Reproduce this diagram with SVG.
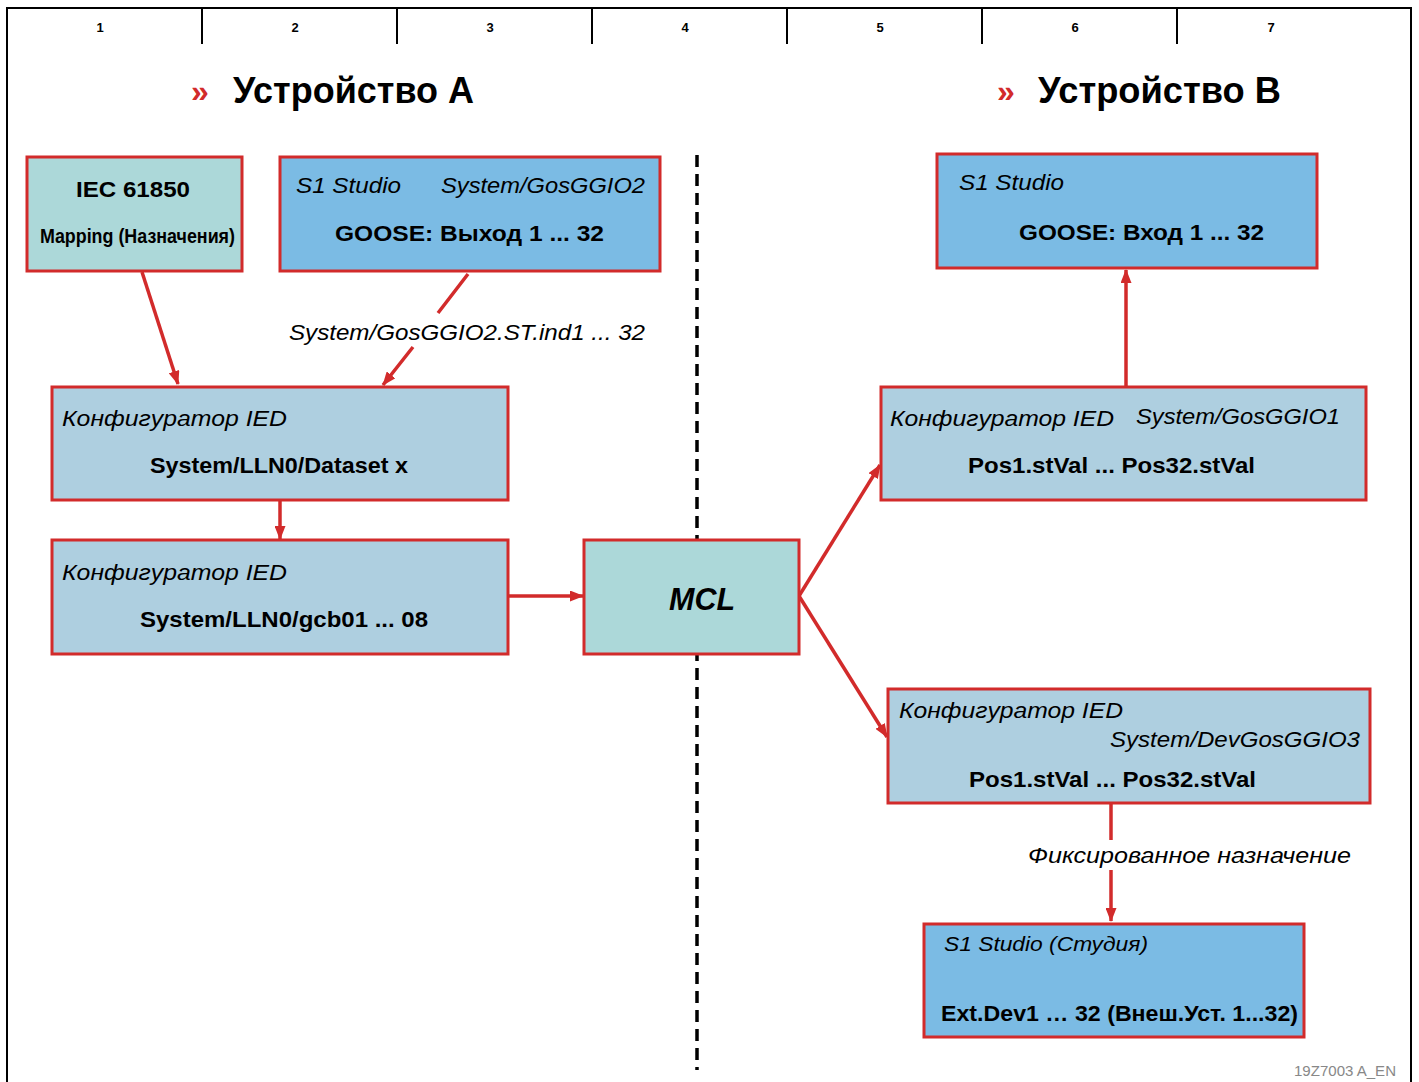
<svg xmlns="http://www.w3.org/2000/svg" width="1419" height="1082" viewBox="0 0 1419 1082">
<style>
.box{stroke:#d22b2b;stroke-width:3}
.teal{fill:#acd8d9}
.blue{fill:#7bbbe4}
.light{fill:#aecfe0}
.it{font-family:"Liberation Sans",Arial,sans-serif;font-style:italic;font-size:22px;fill:#000}
.bd{font-family:"Liberation Sans",Arial,sans-serif;font-weight:bold;font-size:22px;fill:#000}
.num{font-family:"Liberation Sans",Arial,sans-serif;font-weight:bold;font-size:13px;fill:#000;text-anchor:middle}
.title{font-family:"Liberation Sans",Arial,sans-serif;font-weight:bold;font-size:36px;fill:#000}
.raq{font-family:"Liberation Sans",Arial,sans-serif;font-weight:bold;font-size:32px;fill:#d22b2b}
.conn{stroke:#d22b2b;stroke-width:3.5;fill:none;marker-end:url(#ah)}
</style>
<defs>
<marker id="ah" viewBox="0 0 14 11" refX="13" refY="5.5" markerWidth="14" markerHeight="11" markerUnits="userSpaceOnUse" orient="auto">
<path d="M0,0 L14,5.5 L0,11 Z" fill="#d22b2b"/>
</marker>
</defs>
<rect width="1419" height="1082" fill="#fff"/>
<g id="frame" stroke="#000" stroke-width="2" fill="none">
<path d="M7,1082 V8 H1411 V1082"/>
<path d="M202,8 V44 M397,8 V44 M592,8 V44 M787,8 V44 M982,8 V44 M1177,8 V44"/>
</g>
<g id="colnums">
<text class="num" x="100" y="32">1</text>
<text class="num" x="295" y="32">2</text>
<text class="num" x="490" y="32">3</text>
<text class="num" x="685" y="32">4</text>
<text class="num" x="880" y="32">5</text>
<text class="num" x="1075" y="32">6</text>
<text class="num" x="1271" y="32">7</text>
</g>
<g id="titleA">
<text class="raq" x="191" y="102">»</text>
<text class="title" x="233" y="103" textLength="241" lengthAdjust="spacingAndGlyphs">Устройство A</text>
</g>
<g id="titleB">
<text class="raq" x="997" y="102">»</text>
<text class="title" x="1038" y="103" textLength="243" lengthAdjust="spacingAndGlyphs">Устройство B</text>
</g>
<line id="divider" x1="697" y1="155" x2="697" y2="1070" stroke="#000" stroke-width="3.5" stroke-dasharray="12,7"/>
<g id="connectors">
<path class="conn" d="M142,272 L178,384"/>
<path class="conn" d="M468,274 L438,313 M413,347 L383,385"/>
<path class="conn" d="M280,501 L280,539"/>
<path class="conn" d="M509,596 L583,596"/>
<path class="conn" d="M799,596 L880,465"/>
<path class="conn" d="M799,596 L887,737"/>
<path class="conn" d="M1126,386 L1126,270"/>
<path class="conn" d="M1111,804 L1111,840 M1111,870 L1111,921"/>
<text class="it" x="289" y="340" textLength="356" lengthAdjust="spacingAndGlyphs">System/GosGGIO2.ST.ind1 ... 32</text>
<text class="it" x="1028" y="863" textLength="323" lengthAdjust="spacingAndGlyphs">Фиксированное назначение</text>
</g>
<g id="iec">
<rect class="box teal" x="27" y="157" width="215" height="114"/>
<text class="bd" x="76" y="197" textLength="114" lengthAdjust="spacingAndGlyphs">IEC 61850</text>
<text class="bd" x="40" y="243" style="font-size:21px" textLength="195" lengthAdjust="spacingAndGlyphs">Mapping (Назначения)</text>
</g>
<g id="s1out">
<rect class="box blue" x="280" y="157" width="380" height="114"/>
<text class="it" x="296" y="193" textLength="105" lengthAdjust="spacingAndGlyphs">S1 Studio</text>
<text class="it" x="441" y="193" textLength="204" lengthAdjust="spacingAndGlyphs">System/GosGGIO2</text>
<text class="bd" x="335" y="241" textLength="269" lengthAdjust="spacingAndGlyphs">GOOSE: Выход 1 ... 32</text>
</g>
<g id="dataset">
<rect class="box light" x="52" y="387" width="456" height="113"/>
<text class="it" x="62" y="426" textLength="225" lengthAdjust="spacingAndGlyphs">Конфигуратор IED</text>
<text class="bd" x="150" y="473" textLength="258" lengthAdjust="spacingAndGlyphs">System/LLN0/Dataset x</text>
</g>
<g id="gcb">
<rect class="box light" x="52" y="540" width="456" height="114"/>
<text class="it" x="62" y="580" textLength="225" lengthAdjust="spacingAndGlyphs">Конфигуратор IED</text>
<text class="bd" x="140" y="627" textLength="288" lengthAdjust="spacingAndGlyphs">System/LLN0/gcb01 ... 08</text>
</g>
<g id="mcl">
<rect class="box teal" x="584" y="540" width="215" height="114"/>
<text class="bd" x="669" y="610" style="font-size:32px;font-style:italic" textLength="66" lengthAdjust="spacingAndGlyphs">MCL</text>
</g>
<g id="s1in">
<rect class="box blue" x="937" y="154" width="380" height="114"/>
<text class="it" x="959" y="190" textLength="105" lengthAdjust="spacingAndGlyphs">S1 Studio</text>
<text class="bd" x="1019" y="240" textLength="245" lengthAdjust="spacingAndGlyphs">GOOSE: Вход 1 ... 32</text>
</g>
<g id="gosggio1">
<rect class="box light" x="881" y="387" width="485" height="113"/>
<text class="it" x="890" y="426" textLength="224" lengthAdjust="spacingAndGlyphs">Конфигуратор IED</text>
<text class="it" x="1136" y="424" textLength="204" lengthAdjust="spacingAndGlyphs">System/GosGGIO1</text>
<text class="bd" x="968" y="473" textLength="287" lengthAdjust="spacingAndGlyphs">Pos1.stVal ... Pos32.stVal</text>
</g>
<g id="devgosggio3">
<rect class="box light" x="888" y="689" width="482" height="114"/>
<text class="it" x="899" y="718" textLength="224" lengthAdjust="spacingAndGlyphs">Конфигуратор IED</text>
<text class="it" x="1110" y="747" textLength="250" lengthAdjust="spacingAndGlyphs">System/DevGosGGIO3</text>
<text class="bd" x="969" y="787" textLength="287" lengthAdjust="spacingAndGlyphs">Pos1.stVal ... Pos32.stVal</text>
</g>
<g id="studio">
<rect class="box blue" x="924" y="924" width="380" height="113"/>
<text class="it" x="944" y="951" style="font-size:21px" textLength="204" lengthAdjust="spacingAndGlyphs">S1 Studio (Студия)</text>
<text class="bd" x="941" y="1021" textLength="357" lengthAdjust="spacingAndGlyphs">Ext.Dev1 … 32 (Внеш.Уст. 1...32)</text>
</g>
<text id="docid" x="1294" y="1076" font-family="Liberation Sans,Arial,sans-serif" font-size="14" fill="#888" textLength="102" lengthAdjust="spacingAndGlyphs">19Z7003 A_EN</text>
</svg>
